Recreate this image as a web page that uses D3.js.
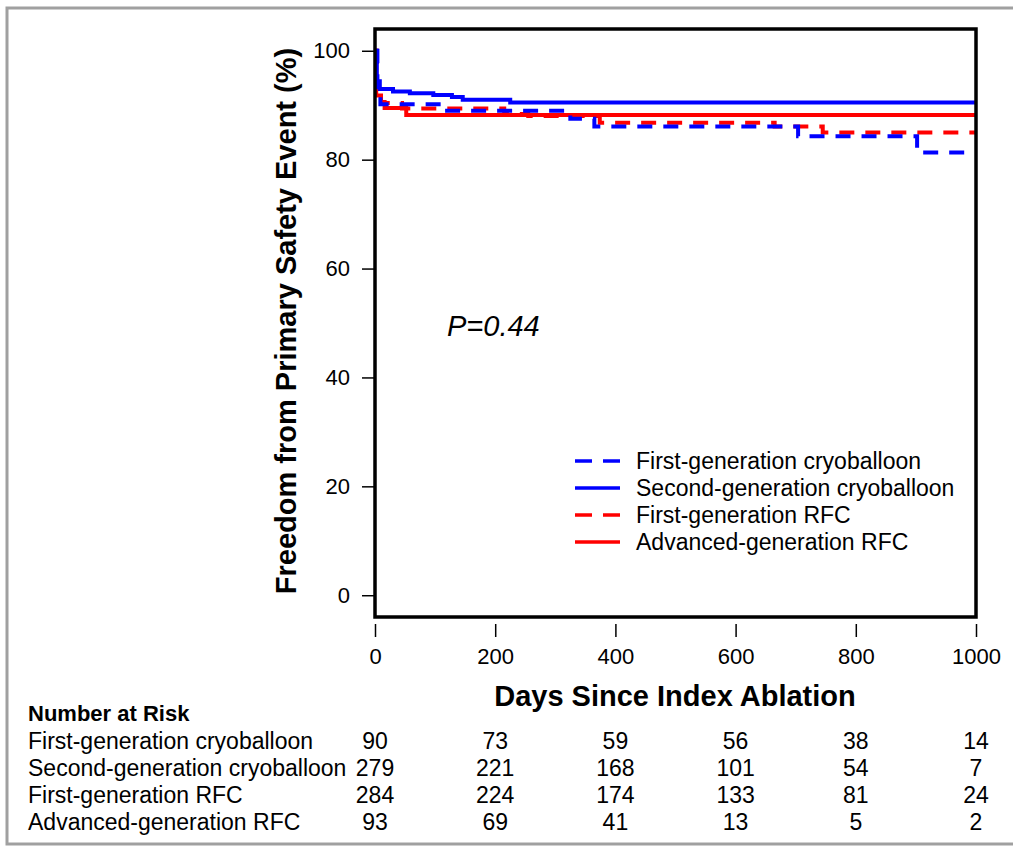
<!DOCTYPE html>
<html>
<head>
<meta charset="utf-8">
<script src="https://cdn.jsdelivr.net/npm/d3@7"></script>
<style>
  body { margin: 0; background: #fff; }
  text { font-family: Arial, "Liberation Sans", sans-serif; fill: #000; }
</style>
</head>
<body>
<div id="chart"></div>
<script>
// Kaplan-Meier steps: [day, % free of event]
var firstCryo = [[0, 100], [4, 92], [9, 90.2], [110, 89.0], [325, 87.5], [365, 86.1], [704, 84.3], [902, 81.3]];
var secondCryo = [[0, 100], [3, 94.4], [8, 93.0], [30, 92.5], [58, 92.2], [97, 91.9], [128, 91.5], [146, 91.0], [225, 90.5]];
var firstRFC = [[0, 100], [3, 92], [10, 90.4], [45, 89.4], [215, 88.4], [255, 88.0], [374, 86.8], [665, 86.1], [745, 85.0]];
var advRFC = [[0, 100], [2, 91.8], [10, 90.6], [16, 89.5], [52, 88.2]];

var seriesNames = ["First-generation cryoballoon", "Second-generation cryoballoon", "First-generation RFC", "Advanced-generation RFC"];
var seriesColors = ["#0000ff", "#0000ff", "#ff0000", "#ff0000"];
var seriesDashed = [true, false, true, false];
var seriesData = [firstCryo, secondCryo, firstRFC, advRFC];

var xTicks = [0, 200, 400, 600, 800, 1000];
var yTicks = [0, 20, 40, 60, 80, 100];
var atRisk = [
    [90, 73, 59, 56, 38, 14],
    [279, 221, 168, 101, 54, 7],
    [284, 224, 174, 133, 81, 24],
    [93, 69, 41, 13, 5, 2]
];

var width = 1013;
var height = 850;

var svg = d3.select("#chart").append("svg")
    .attr("width", width)
    .attr("height", height);

// gray outer frame
svg.append("rect")
    .attr("x", 7).attr("y", 8)
    .attr("width", 1020).attr("height", 836)
    .style("fill", "none")
    .style("stroke", "#a0a0a0")
    .style("stroke-width", 3);

var x = d3.scaleLinear().domain([0, 1000]).range([375, 976]);
var y = d3.scaleLinear().domain([-4, 104]).range([617, 29]);

// y axis
var yAxis = svg.append("g")
    .attr("transform", "translate(" + (x(0) - 1) + ",0)")
    .call(d3.axisLeft(y).tickValues(yTicks).tickSize(12).tickPadding(12));
yAxis.select(".domain").remove();
yAxis.selectAll("line").style("stroke-width", 1.5);
yAxis.selectAll("text").style("font-size", "22px").style("font-family", "Arial, 'Liberation Sans', sans-serif");

// x axis
var xAxis = svg.append("g")
    .attr("transform", "translate(0," + 624 + ")")
    .call(d3.axisBottom(x).tickValues(xTicks).tickFormat(d3.format("d")).tickSize(13).tickPadding(11));
xAxis.select(".domain").remove();
xAxis.selectAll("line").style("stroke-width", 1.5);
xAxis.selectAll("text").style("font-size", "22px").style("font-family", "Arial, 'Liberation Sans', sans-serif");

// curves
var line = d3.line()
    .x(function(d) { return x(d[0]); })
    .y(function(d) { return y(d[1]); })
    .curve(d3.curveStepAfter);

var order = [3, 2, 1, 0];
order.forEach(function(i) {
    var pts = seriesData[i].slice();
    pts.push([1000, pts[pts.length - 1][1]]);
    svg.append("path")
        .datum(pts)
        .attr("d", line)
        .style("fill", "none")
        .style("stroke", seriesColors[i])
        .style("stroke-width", 4)
        .style("stroke-dasharray", seriesDashed[i] ? "15,11" : null);
});

// plot box
svg.append("rect")
    .attr("x", x(0)).attr("y", y(104))
    .attr("width", x(1000) - x(0))
    .attr("height", y(-4) - y(104))
    .style("fill", "none")
    .style("stroke", "#000")
    .style("stroke-width", 3.5);

// axis titles
svg.append("text")
    .attr("transform", "translate(296,321) rotate(-90)")
    .attr("text-anchor", "middle")
    .style("font-size", "29px")
    .style("font-weight", "bold")
    .text("Freedom from Primary Safety Event (%)");

svg.append("text")
    .attr("x", 675).attr("y", 706)
    .attr("text-anchor", "middle")
    .style("font-size", "29px")
    .style("font-weight", "bold")
    .text("Days Since Index Ablation");

// p-value
svg.append("text")
    .attr("x", 447).attr("y", 336)
    .style("font-size", "29px")
    .style("font-style", "italic")
    .text("P=0.44");

// legend
var legend = svg.selectAll(".leg")
    .data(seriesNames)
    .enter().append("g")
    .attr("class", "leg")
    .attr("transform", function(d, i) { return "translate(575," + (461 + i * 27) + ")"; });
legend.append("line")
    .attr("x1", 0).attr("x2", 45)
    .style("stroke", function(d, i) { return seriesColors[i]; })
    .style("stroke-width", 3.5)
    .style("stroke-dasharray", function(d, i) { return seriesDashed[i] ? "17,11" : null; });
legend.append("text")
    .attr("x", 61).attr("y", 8)
    .style("font-size", "23px")
    .text(function(d) { return d; });

// number at risk table
svg.append("text")
    .attr("x", 28).attr("y", 721)
    .style("font-size", "22px")
    .style("font-weight", "bold")
    .text("Number at Risk");

seriesNames.forEach(function(name, i) {
    var yy = 749 + i * 27;
    svg.append("text")
        .attr("x", 28).attr("y", yy)
        .style("font-size", "23px")
        .text(name);
    svg.selectAll(".risk" + i)
        .data(atRisk[i])
        .enter().append("text")
        .attr("class", "risk" + i)
        .attr("x", function(d, j) { return x(xTicks[j]); })
        .attr("y", yy)
        .attr("text-anchor", "middle")
        .style("font-size", "23px")
        .text(function(d) { return d; });
});
</script>
</body>
</html>
